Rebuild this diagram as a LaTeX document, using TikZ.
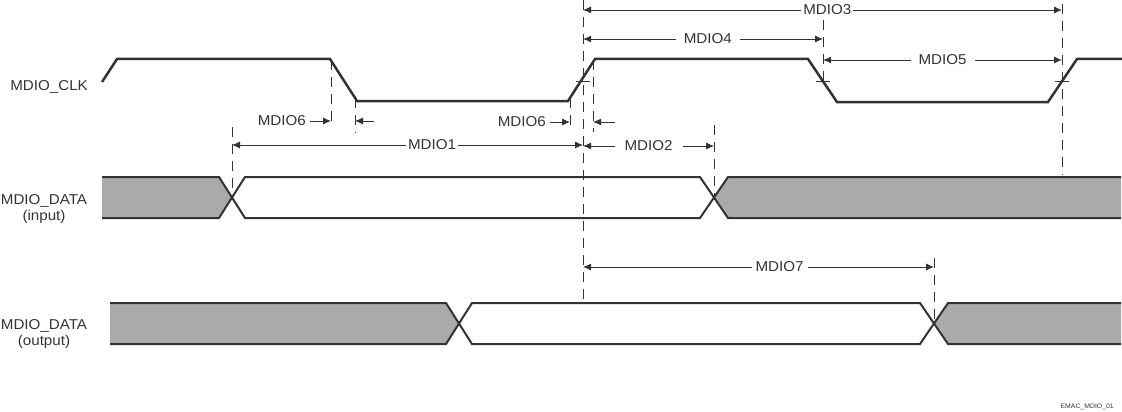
\documentclass[tikz,border=0pt]{standalone}
\usepackage{fontspec}
\setmainfont[FakeStretch=1.06]{Liberation Sans}
\usetikzlibrary{arrows.meta}
\definecolor{wavecol}{HTML}{333333}
\definecolor{guidecol}{HTML}{333333}
\definecolor{textcol}{HTML}{333333}
\definecolor{busgray}{HTML}{AAAAAA}
\tikzset{
  wave/.style={line width=2pt, draw=wavecol, line join=miter},
  clk/.style={line width=2.5pt, draw=wavecol, line join=miter},
  guide/.style={line width=0.9pt, draw=guidecol, dash pattern=on 10pt off 7pt},
  tick/.style={line width=0.9pt, draw=guidecol},
  dim/.style={line width=0.9pt, draw=guidecol, {Latex[length=8pt,width=7pt]}-{Latex[length=8pt,width=7pt]}},
  onearrow/.style={line width=0.9pt, draw=guidecol, -{Latex[length=8pt,width=7pt]}},
  lbl/.style={font=\fontsize{14.3}{16}\selectfont, text=textcol, inner ysep=1pt, inner xsep=5pt, fill=white},
  sig/.style={font=\fontsize{14.3}{16}\selectfont, text=textcol, align=center, inner sep=0pt},
  fig/.style={font=\fontsize{6.5}{7}\selectfont, text=textcol, inner sep=0pt},
}
\begin{document}
\begin{tikzpicture}[x=1pt,y=-1pt]
\path[use as bounding box] (0,0) rectangle (1122,412);

% ---- signal names ----
\node[sig, anchor=east] (nclk) at (88,87) {MDIO\_CLK};
\node[sig] (nin) at (44,209) {MDIO\_DATA\\(input)};
\node[sig] (nout) at (44,334) {MDIO\_DATA\\(output)};

% ---- guide coordinates ----
\coordinate (a1) at (232,145);
\coordinate (b0) at (583,10);
\coordinate (b4) at (583,39);
\coordinate (b1) at (583,145);
\coordinate (b2) at (583,146);
\coordinate (b7) at (583,267);
\coordinate (c4) at (823,39);
\coordinate (c5) at (823,60);
\coordinate (d3) at (1062,10);
\coordinate (d5) at (1062,60);
\coordinate (e2) at (714,146);
\coordinate (f7) at (934,267);

% ---- bus fills ----
\fill[busgray] (102,177) -- (219,177) -- (232,197.5) -- (219,218) -- (102,218) -- cycle;
\fill[busgray] (714,197.5) -- (728,177) -- (1121,177) -- (1121,218) -- (728,218) -- cycle;
\fill[busgray] (110,303) -- (446,303) -- (459,323.5) -- (446,344) -- (110,344) -- cycle;
\fill[busgray] (934,323.5) -- (948,303) -- (1121,303) -- (1121,344) -- (948,344) -- cycle;

% ---- waveforms ----
\draw[clk] (102,82) -- (117,59) -- (330,59) -- (357,101) -- (568,101) -- (595,59) -- (808,59) -- (837,102) -- (1048,102) -- (1077,59) -- (1122,59);
\draw[wave] (102,177) -- (219,177) -- (245,218) -- (700,218) -- (728,177) -- (1121,177);
\draw[wave] (102,218) -- (219,218) -- (245,177) -- (700,177) -- (728,218) -- (1121,218);
\draw[wave] (110,303) -- (446,303) -- (472,344) -- (920,344) -- (948,303) -- (1121,303);
\draw[wave] (110,344) -- (446,344) -- (472,303) -- (920,303) -- (948,344) -- (1121,344);

% ---- guides ----
\draw[guide] (232,127) -- (232,200);
\draw[guide] (331,60) -- (331,128);
\draw[guide] (355,98) -- (355,133);
\draw[guide] (570,98) -- (570,132);
\draw[guide] (583,0) -- (583,300);
\draw[guide] (593,60) -- (593,132);
\draw[guide] (714,125) -- (714,200);
\draw[guide] (823,20) -- (823,82);
\draw[guide] (1062,4) -- (1062,175);
\draw[guide] (934,258) -- (934,325);

% ---- edge ticks ----
\draw[tick] (576,81) -- (590,81);
\draw[tick] (816,81) -- (830,81);
\draw[tick] (1055,81) -- (1069,81);

% ---- dimensions ----
\draw[dim] (b0) -- (d3) node[lbl, pos=0.51, inner xsep=2pt] (l3) {MDIO3};
\draw[dim] (b4) -- (c4) node[lbl, pos=0.52, inner xsep=8pt] (l4) {MDIO4};
\draw[dim] (c5) -- (d5) node[lbl, pos=0.5, inner xsep=8pt] (l5) {MDIO5};
\draw[dim] (a1) -- (b1) node[lbl, pos=0.57, inner xsep=2pt] (l1) {MDIO1};
\draw[dim] (b2) -- (e2) node[lbl, pos=0.5, inner xsep=10pt] (l2) {MDIO2};
\draw[dim] (b7) -- (f7) node[lbl, pos=0.56, inner xsep=4pt] (l7) {MDIO7};

\node[sig, anchor=east] (l6a) at (306,121) {MDIO6};
\coordinate (p6a) at (331,121);
\coordinate (q6a) at (355,121);
\coordinate (r6a) at (374,121);
\draw[onearrow] (l6a.east) ++(4,0) -- (p6a);
\draw[onearrow] (r6a) -- (q6a);

\node[sig, anchor=east] (l6b) at (546,122) {MDIO6};
\coordinate (p6b) at (570,122);
\coordinate (q6b) at (593,122);
\coordinate (r6b) at (615,122);
\draw[onearrow] (l6b.east) ++(4,0) -- (p6b);
\draw[onearrow] (r6b) -- (q6b);

% ---- figure id ----
\node[fig, anchor=east] (fid) at (1114,407) {EMAC\_MDIO\_01};
\end{tikzpicture}
\end{document}
